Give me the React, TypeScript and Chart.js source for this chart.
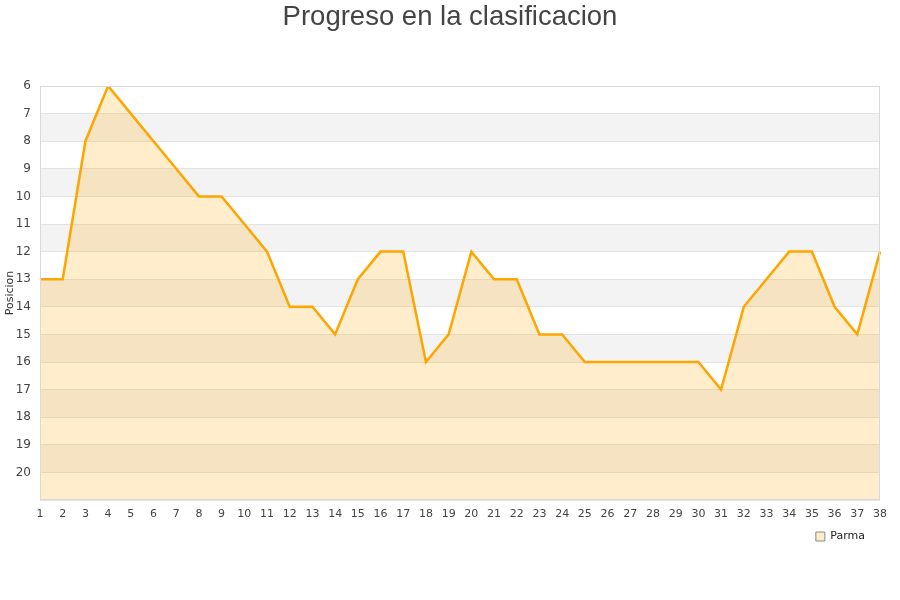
import { useEffect, useRef } from 'react';
import { Chart, registerables } from 'chart.js';

Chart.register(...registerables);

const chartTitle = 'Progreso en la clasificacion';
const yAxisTitle = 'Posicion';
const teamName = 'Parma';
const jornadas = [
  '1', '2', '3', '4', '5', '6', '7', '8', '9', '10',
  '11', '12', '13', '14', '15', '16', '17', '18', '19', '20',
  '21', '22', '23', '24', '25', '26', '27', '28', '29', '30',
  '31', '32', '33', '34', '35', '36', '37', '38',
];
const posiciones = [
  13, 13, 8, 6, 7, 8, 9, 10, 10, 11,
  12, 14, 14, 15, 13, 12, 12, 16, 15, 12,
  13, 13, 15, 15, 16, 16, 16, 16, 16, 16,
  17, 14, 13, 12, 12, 14, 15, 12,
];
const yMin = 6;
const yMax = 21;
const bandStarts = [7, 9, 11, 13, 15, 17, 19];

const bandsPlugin = {
  id: 'bands',
  afterLayout(chart: any) {
    const tb = chart.titleBlock;
    if (tb) {
      tb.left = 0;
      tb.right = chart.width;
      tb.width = chart.width;
    }
    const lg = chart.legend;
    if (lg) {
      lg.left -= 10;
      lg.right -= 10;
    }
  },
  beforeDraw(chart: any) {
    const { ctx, chartArea } = chart;
    const y = chart.scales.y;
    ctx.save();
    ctx.fillStyle = '#f3f3f3';
    for (const b of bandStarts) {
      const y1 = y.getPixelForValue(b);
      const y2 = y.getPixelForValue(b + 1);
      ctx.fillRect(chartArea.left, Math.min(y1, y2), chartArea.right - chartArea.left, Math.abs(y2 - y1));
    }
    ctx.restore();
  },
  afterDraw(chart: any) {
    const { ctx, chartArea } = chart;
    ctx.save();
    ctx.strokeStyle = '#d9d9d9';
    ctx.lineWidth = 1;
    ctx.strokeRect(
      Math.round(chartArea.left) + 0.5,
      Math.round(chartArea.top) + 0.5,
      Math.round(chartArea.right - chartArea.left) - 1,
      Math.round(chartArea.bottom - chartArea.top) - 1,
    );
    ctx.restore();
  },
};

export default function App() {
  const ref = useRef<HTMLCanvasElement | null>(null);

  useEffect(() => {
    document.body.style.margin = '0';
    if (!ref.current) return;
    const chart = new Chart(ref.current, {
      type: 'line',
      data: {
        labels: jornadas,
        datasets: [
          {
            label: teamName,
            data: posiciones,
            borderColor: '#ffa500',
            backgroundColor: 'rgba(255,165,0,0.2)',
            borderWidth: 2.5,
            pointRadius: 0,
            pointHoverRadius: 0,
            tension: 0,
            fill: 'start',
          },
        ],
      },
      options: {
        responsive: false,
        animation: false,
        layout: { padding: { top: 0, right: 20, bottom: 48, left: 0 } },
        plugins: {
          title: {
            display: true,
            text: chartTitle,
            color: '#444',
            font: { family: 'Liberation Sans', size: 27.5, weight: 'normal' },
            padding: { top: 1, bottom: 52 },
          },
          legend: {
            display: true,
            position: 'bottom',
            align: 'end',
            labels: {
              boxWidth: 9,
              boxHeight: 9,
              padding: 5,
              color: '#222',
              font: { family: 'DejaVu Sans', size: 11 },
              generateLabels(chart: any) {
                const items = Chart.defaults.plugins.legend.labels.generateLabels(chart);
                return items.map((it: any) => ({
                  ...it,
                  fillStyle: '#ffedcc',
                  strokeStyle: '#888',
                  lineWidth: 1,
                }));
              },
            },
          },
          tooltip: { enabled: false },
        },
        scales: {
          x: {
            type: 'category',
            offset: false,
            grid: { display: false, drawTicks: false },
            border: { display: false },
            ticks: {
              color: '#444',
              font: { family: 'DejaVu Sans', size: 11 },
              maxRotation: 0,
              autoSkip: false,
              padding: 8,
            },
            afterFit(scale: any) {
              scale.height = 26;
            },
          },
          y: {
            reverse: true,
            min: yMin,
            max: yMax,
            grid: { color: '#e3e3e3', drawTicks: false },
            border: { display: false },
            ticks: {
              stepSize: 1,
              color: '#444',
              font: { family: 'DejaVu Sans', size: 12 },
              padding: 9,
              callback: (v: any) => (Number(v) === yMax ? '' : String(v)),
            },
            title: {
              display: true,
              text: yAxisTitle,
              color: '#333',
              font: { family: 'DejaVu Sans', size: 11 },
              padding: { top: 4, bottom: 0 },
            },
            afterFit(scale: any) {
              scale.width = 40;
            },
          },
        },
      },
      plugins: [bandsPlugin],
    });
    return () => chart.destroy();
  }, []);

  return (
    <div style={{ width: 900, height: 600 }}>
      <canvas ref={ref} width={900} height={600} />
    </div>
  );
}
